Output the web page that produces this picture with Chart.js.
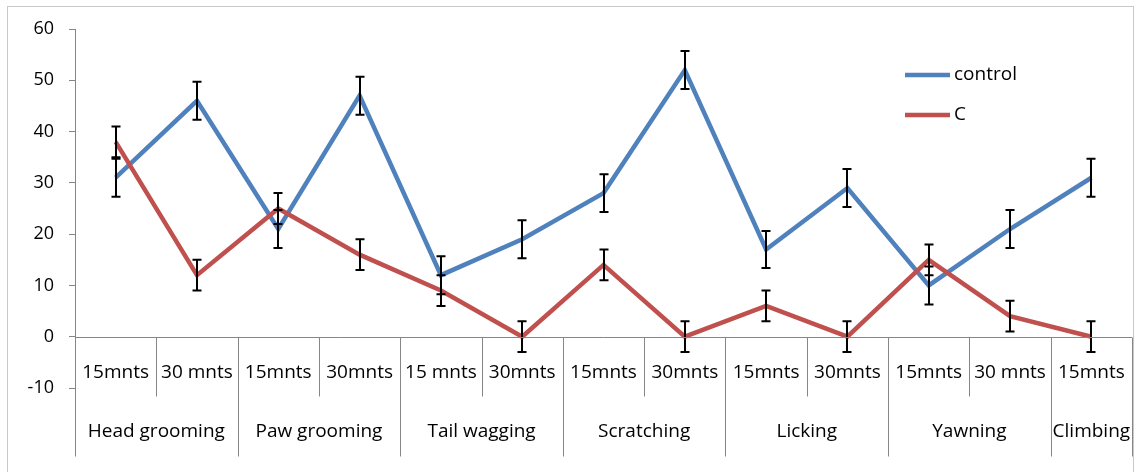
<!DOCTYPE html>
<html>
<head>
<meta charset="utf-8">
<script src="https://cdn.jsdelivr.net/npm/chart.js@4.4.1/dist/chart.umd.min.js"></script>
<style>
  html, body { margin: 0; padding: 0; background: #fff; }
  #wrap { width: 1135px; height: 472px; position: relative; }
</style>
</head>
<body>
<div id="wrap"><canvas id="chart" width="1135" height="472"></canvas></div>
<script>
// Observation times (inner category level)
const timeLabels = ["15mnts", "30 mnts", "15mnts", "30mnts", "15 mnts", "30mnts",
                    "15mnts", "30mnts", "15mnts", "30mnts", "15mnts", "30 mnts", "15mnts"];
// Behaviours (outer category level) and how many time points each one covers
const behaviours = ["Head grooming", "Paw grooming", "Tail wagging", "Scratching",
                    "Licking", "Yawning", "Climbing"];
const behaviourSpans = [2, 2, 2, 2, 2, 2, 1];

// Series values and their error margins
const controlValues = [31, 46, 21, 47, 12, 19, 28, 52, 17, 29, 10, 21, 31];
const controlErrors = [3.7, 3.7, 3.7, 3.7, 3.7, 3.7, 3.7, 3.7, 3.6, 3.7, 3.7, 3.7, 3.7];
const cValues = [38, 12, 25, 16, 9, 0, 14, 0, 6, 0, 15, 4, 0];
const cErrors = [3, 3, 3, 3, 3, 3, 3, 3, 3, 3, 3, 3, 3];

// Value axis ticks
const yTicks = [60, 50, 40, 30, 20, 10, 0, -10];

const FONT = "'Open Sans', 'Noto Sans', sans-serif";
const AXIS_GREY = "#868686";

// Outer frame of the figure
const framePlugin = {
  id: "frame",
  beforeDraw(chart) {
    const ctx = chart.ctx;
    ctx.save();
    ctx.fillStyle = "#fff";
    ctx.fillRect(0, 0, chart.width, chart.height);
    ctx.strokeStyle = "#c8c8c8";
    ctx.lineWidth = 1;
    ctx.strokeRect(7.5, 6.5, chart.width - 9, chart.height + 20);
    ctx.restore();
  }
};

// Two-level category axis drawn along the zero line
const categoryAxisPlugin = {
  id: "categoryAxis",
  afterDraw(chart) {
    const ctx = chart.ctx;
    const xs = chart.scales.x;
    const ys = chart.scales.y;
    const area = chart.chartArea;
    const y0 = Math.round(ys.getPixelForValue(0)) + 0.5;
    const n = timeLabels.length;
    const edge = i => i === 0 ? area.left : (i === n ? area.right : (xs.getPixelForValue(i - 1) + xs.getPixelForValue(i)) / 2);

    ctx.save();
    ctx.strokeStyle = AXIS_GREY;
    ctx.lineWidth = 1;
    ctx.beginPath();
    ctx.moveTo(area.left, y0);
    ctx.lineTo(area.right, y0);
    ctx.stroke();

    // group boundaries run the full depth of both label rows
    const groupEdges = new Set([0]);
    let acc = 0;
    behaviourSpans.forEach(s => { acc += s; groupEdges.add(acc); });

    for (let i = 0; i <= n; i++) {
      const x = Math.round(edge(i)) + 0.5;
      const len = groupEdges.has(i) ? 119 : 59;
      ctx.beginPath();
      ctx.moveTo(x, y0);
      ctx.lineTo(x, y0 + len);
      ctx.stroke();
    }

    ctx.fillStyle = "#000";
    ctx.font = "19px " + FONT;
    ctx.textAlign = "center";
    ctx.textBaseline = "middle";
    timeLabels.forEach((t, i) => {
      ctx.fillText(t, xs.getPixelForValue(i), y0 + 35);
    });

    let start = 0;
    behaviours.forEach((b, g) => {
      const end = start + behaviourSpans[g];
      const cx = (edge(start) + edge(end)) / 2;
      ctx.fillText(b, cx, y0 + 94);
      start = end;
    });
    ctx.restore();
  }
};

// Vertical error bars with caps
const errorBarPlugin = {
  id: "errorBars",
  afterDatasetsDraw(chart) {
    const ctx = chart.ctx;
    const xs = chart.scales.x;
    const ys = chart.scales.y;
    ctx.save();
    ctx.strokeStyle = "#000";
    ctx.lineWidth = 2;
    chart.data.datasets.forEach(ds => {
      const errs = ds.errorBars || [];
      ds.data.forEach((v, j) => {
        const e = errs[j];
        if (e == null) return;
        const x = Math.round(xs.getPixelForValue(j));
        const yt = ys.getPixelForValue(v + e);
        const yb = ys.getPixelForValue(v - e);
        ctx.beginPath();
        ctx.moveTo(x, yt); ctx.lineTo(x, yb);
        ctx.moveTo(x - 4.5, yt); ctx.lineTo(x + 4.5, yt);
        ctx.moveTo(x - 4.5, yb); ctx.lineTo(x + 4.5, yb);
        ctx.stroke();
      });
    });
    ctx.restore();
  }
};

// Legend placed inside the plot, upper right
const legendPlugin = {
  id: "seriesLegend",
  afterDraw(chart) {
    const ctx = chart.ctx;
    ctx.save();
    ctx.font = "19px " + FONT;
    ctx.textAlign = "left";
    ctx.textBaseline = "middle";
    chart.data.datasets.forEach((ds, i) => {
      const y = 75 + i * 40;
      ctx.strokeStyle = ds.borderColor;
      ctx.lineWidth = 4.5;
      ctx.beginPath();
      ctx.moveTo(905, y);
      ctx.lineTo(950, y);
      ctx.stroke();
      ctx.fillStyle = "#000";
      ctx.fillText(ds.label, 954, y);
    });
    ctx.restore();
  }
};

new Chart(document.getElementById("chart"), {
  type: "line",
  data: {
    labels: timeLabels,
    datasets: [
      {
        label: "control",
        data: controlValues,
        errorBars: controlErrors,
        borderColor: "#4F81BD",
        backgroundColor: "#4F81BD",
        borderWidth: 4.5,
        pointRadius: 0,
        tension: 0,
        order: 1
      },
      {
        label: "C",
        data: cValues,
        errorBars: cErrors,
        borderColor: "#C0504D",
        backgroundColor: "#C0504D",
        borderWidth: 4.5,
        pointRadius: 0,
        tension: 0,
        order: 0
      }
    ]
  },
  options: {
    responsive: false,
    devicePixelRatio: 1,
    animation: false,
    events: [],
    layout: { padding: { top: 29, right: 3, bottom: 84, left: 0 } },
    plugins: {
      legend: { display: false },
      tooltip: { enabled: false }
    },
    scales: {
      x: {
        type: "category",
        display: false,
        offset: true
      },
      y: {
        min: -10,
        max: 60,
        afterBuildTicks: s => { s.ticks = yTicks.map(v => ({ value: v })); },
        afterFit: s => { s.width = 75; },
        border: { display: true, color: AXIS_GREY, width: 1 },
        grid: { drawOnChartArea: false, drawTicks: true, tickLength: 6, color: AXIS_GREY },
        ticks: {
          padding: 15,
          color: "#000",
          font: { family: FONT, size: 18 }
        }
      }
    }
  },
  plugins: [framePlugin, categoryAxisPlugin, errorBarPlugin, legendPlugin]
});
</script>
</body>
</html>
